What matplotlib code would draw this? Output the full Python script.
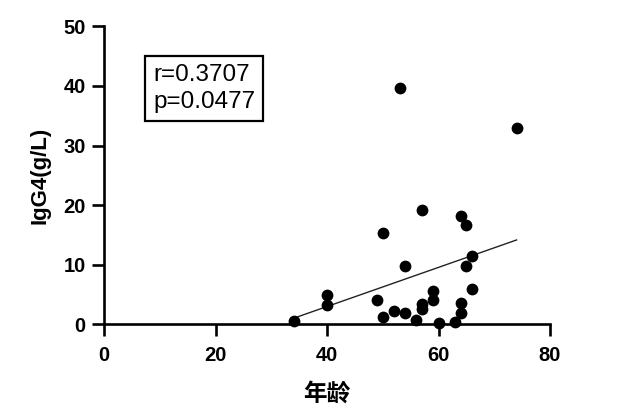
import matplotlib
matplotlib.use("Agg")
import matplotlib.pyplot as plt
import numpy as np

age = [34, 40, 40, 49, 50, 50, 52, 53, 54, 54, 56, 57, 57, 57, 59, 59, 60, 63, 64, 64, 64, 65, 65, 66, 66, 74]
igg4 = [0.6, 5.0, 3.3, 4.1, 15.3, 1.2, 2.2, 39.6, 1.9, 9.8, 0.8, 19.2, 3.4, 2.5, 5.6, 4.1, 0.3, 0.4, 3.6, 1.85, 18.1, 16.7, 9.7, 11.5, 5.9, 32.9]
stats_text = "r=0.3707\np=0.0477"
xticks = [0, 20, 40, 60, 80]
yticks = [0, 10, 20, 30, 40, 50]

plt.rcParams['font.family'] = ['Liberation Sans', 'Noto Sans CJK SC', 'DejaVu Sans']

W, H = 621, 418
fig = plt.figure(figsize=(W / 100, H / 100), dpi=100)
ax = fig.add_axes([104.3 / W, 1 - 324.3 / H, 445.7 / W, 298.0 / H])

ax.scatter(age, igg4, s=72, color='black', linewidths=0, zorder=3, clip_on=False)
x = np.array(age, dtype=float)
y = np.array(igg4, dtype=float)
m, b = np.polyfit(x, y, 1)
xs = np.array([x.min(), x.max()])
ax.plot(xs, m * xs + b, color='#222222', lw=1.0, zorder=2)

ax.set_xlim(0, 80)
ax.set_ylim(0, 50)
ax.set_xticks(xticks)
ax.set_yticks(yticks)
for s in ['top', 'right']:
    ax.spines[s].set_visible(False)
for s in ['left', 'bottom']:
    ax.spines[s].set_linewidth(1.9)
ax.tick_params(width=1.9, length=8.5, labelsize=14.5)
ax.tick_params(axis='x', pad=7)
ax.tick_params(axis='y', pad=5)
for lab in ax.get_xticklabels() + ax.get_yticklabels():
    lab.set_fontweight('bold')

ax.set_ylabel('IgG4(g/L)', fontsize=16, fontweight='bold', labelpad=9)
ax.set_xlabel('年龄', fontsize=17, fontweight='bold', family=['Noto Sans CJK SC'], labelpad=12)

fig.text(153 / W, 1 - 88.5 / H, stats_text, fontsize=17.5, va='center', ha='left',
         linespacing=1.28,
         bbox=dict(boxstyle='square,pad=0.32', facecolor='white', edgecolor='black', lw=1.6))

fig.savefig('out.png', dpi=100)
